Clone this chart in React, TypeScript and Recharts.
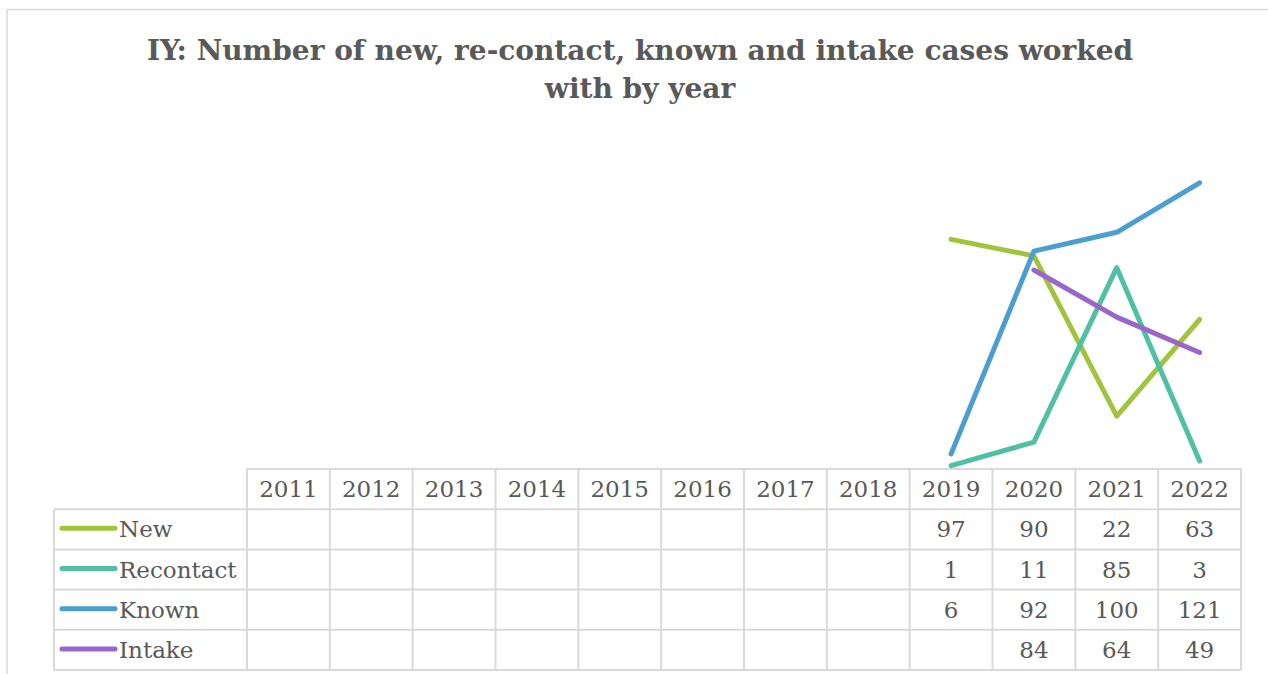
import { Line, LineChart, XAxis, YAxis } from "recharts";

const years = ["2011", "2012", "2013", "2014", "2015", "2016", "2017", "2018", "2019", "2020", "2021", "2022"];
const newCases = [null, null, null, null, null, null, null, null, 97, 90, 22, 63];
const recontactCases = [null, null, null, null, null, null, null, null, 1, 11, 85, 3];
const knownCases = [null, null, null, null, null, null, null, null, 6, 92, 100, 121];
const intakeCases = [null, null, null, null, null, null, null, null, null, 84, 64, 49];

const series = [
  { key: "new", name: "New", values: newCases, color: "#a2c43d" },
  { key: "recontact", name: "Recontact", values: recontactCases, color: "#50c0a4" },
  { key: "known", name: "Known", values: knownCases, color: "#4b9fcf" },
  { key: "intake", name: "Intake", values: intakeCases, color: "#9a66c9" },
];

const data = years.map((year, i) => {
  const row: any = { year };
  series.forEach((s) => (row[s.key] = s.values[i]));
  return row;
});

const W = 1268;
const H = 674;
const TEXT = "#595959";
const GRID = "#d9d9d9";
const FONT = "'DejaVu Serif', serif";

// table geometry
const tableLeft = 54;
const colLeft = 247;
const colW = (1241 - 247) / years.length;
const tableTop = 469;
const rowH = 40.2;

const DataTable = () => {
  const right = colLeft + colW * years.length;
  const bottom = tableTop + rowH * (series.length + 1);
  return (
    <g>
      {/* horizontal lines */}
      <line x1={colLeft} x2={right} y1={tableTop} y2={tableTop} stroke={GRID} strokeWidth={2} />
      {series.map((s, i) => (
        <line key={s.key} x1={tableLeft} x2={right} y1={tableTop + rowH * (i + 1)} y2={tableTop + rowH * (i + 1)} stroke={GRID} strokeWidth={2} />
      ))}
      <line x1={tableLeft} x2={right} y1={bottom} y2={bottom} stroke={GRID} strokeWidth={2} />
      {/* vertical lines */}
      <line x1={tableLeft} x2={tableLeft} y1={tableTop + rowH} y2={bottom} stroke={GRID} strokeWidth={2} />
      {years.map((y, i) => (
        <line key={y} x1={colLeft + colW * i} x2={colLeft + colW * i} y1={tableTop} y2={bottom} stroke={GRID} strokeWidth={2} />
      ))}
      <line x1={right} x2={right} y1={tableTop} y2={bottom} stroke={GRID} strokeWidth={2} />
      {/* header */}
      {years.map((y, i) => (
        <text key={y} x={colLeft + colW * (i + 0.5)} y={tableTop + rowH / 2 + 8} textAnchor="middle" fontSize={23} fill={TEXT} fontFamily={FONT}>
          {y}
        </text>
      ))}
      {series.map((s, r) => {
        const cy = tableTop + rowH * (r + 1.5);
        return (
          <g key={s.key}>
            <line x1={62} x2={115} y1={cy - 1} y2={cy - 1} stroke={s.color} strokeWidth={5} strokeLinecap="round" />
            <text x={119} y={cy + 8} fontSize={23} fill={TEXT} fontFamily={FONT}>
              {s.name}
            </text>
            {s.values.map((v, i) =>
              v == null ? null : (
                <text key={i} x={colLeft + colW * (i + 0.5)} y={cy + 8} textAnchor="middle" fontSize={23} fill={TEXT} fontFamily={FONT}>
                  {v}
                </text>
              )
            )}
          </g>
        );
      })}
    </g>
  );
};

export default function App() {
  return (
    <div style={{ position: "absolute", left: 0, top: 0, width: W, height: H, background: "#fff", overflow: "hidden" }}>
      <svg width={W} height={H} style={{ position: "absolute", left: 0, top: 0 }}>
        <rect x={7} y={9.5} width={W + 10} height={H + 10} fill="#fff" stroke={GRID} strokeWidth={1.5} />
        <text x={640} y={60} textAnchor="middle" fontSize={28} fontWeight="bold" fill={TEXT} fontFamily={FONT}>
          IY: Number of new, re-contact, known and intake cases worked
        </text>
        <text x={640} y={98} textAnchor="middle" fontSize={28} fontWeight="bold" fill={TEXT} fontFamily={FONT}>
          with by year
        </text>
        <DataTable />
      </svg>
      <div style={{ position: "absolute", left: 0, top: 0 }}>
        <LineChart width={W} height={H} data={data} margin={{ top: 138, right: 27, bottom: 206, left: 247 }}>
          <XAxis dataKey="year" hide padding={{ left: colW / 2, right: colW / 2 }} />
          <YAxis hide domain={[0, 140]} />
          {series.map((s) => (
            <Line
              key={s.key}
              dataKey={s.key}
              name={s.name}
              stroke={s.color}
              strokeWidth={5}
              strokeLinecap="round"
              strokeLinejoin="round"
              dot={false}
              activeDot={false}
              isAnimationActive={false}
            />
          ))}
        </LineChart>
      </div>
    </div>
  );
}
